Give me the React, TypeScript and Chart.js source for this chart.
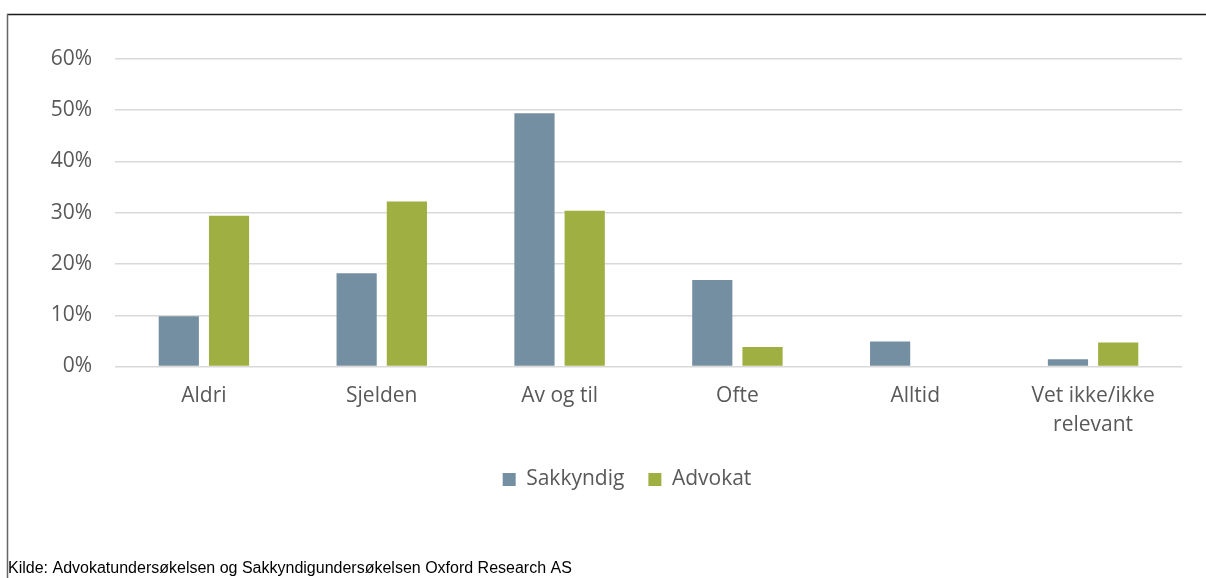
import React, { useEffect, useRef } from "react";
import { Chart, registerables } from "chart.js";

Chart.register(...registerables);

const categories: (string | string[])[] = ["Aldri", "Sjelden", "Av og til", "Ofte", "Alltid", ["Vet ikke/ikke", "relevant"]];
const sakkyndig = [9.8, 18.2, 49.4, 16.9, 4.9, 1.4];
const advokat = [29.4, 32.2, 30.4, 3.8, 0, 4.7];
const yTicks = [0, 10, 20, 30, 40, 50, 60];
const sourceNote = "Kilde: Advokatundersøkelsen og Sakkyndigundersøkelsen Oxford Research AS";

const FONT = "'Open Sans', sans-serif";
const TEXT = "#595959";

const framePlugin = {
  id: "frame",
  afterLayout(chart: any) {
    if (chart.legend) {
      chart.legend.left += 36;
      chart.legend.right += 36;
    }
  },
  beforeDraw(chart: any) {
    const ctx = chart.ctx;
    ctx.save();
    ctx.fillStyle = "#ffffff";
    ctx.fillRect(0, 0, chart.width, chart.height);
    ctx.lineWidth = 1.5;
    ctx.strokeStyle = "#1a1a1a";
    ctx.beginPath();
    ctx.moveTo(7, 14.5);
    ctx.lineTo(chart.width, 14.5);
    ctx.stroke();
    ctx.strokeStyle = "#666666";
    ctx.beginPath();
    ctx.moveTo(7.5, 14);
    ctx.lineTo(7.5, chart.height);
    ctx.stroke();
    ctx.restore();
  },
  afterDraw(chart: any) {
    const ctx = chart.ctx;
    ctx.save();
    ctx.fillStyle = "#000000";
    ctx.font = "16px 'Liberation Sans', Arial, sans-serif";
    ctx.textBaseline = "alphabetic";
    ctx.textAlign = "left";
    ctx.fillText(sourceNote, 8, 573);
    ctx.restore();
  },
};

export default function App() {
  const ref = useRef<HTMLCanvasElement | null>(null);
  useEffect(() => {
    if (!ref.current) return;
    const chart = new Chart(ref.current, {
      type: "bar",
      data: {
        labels: categories,
        datasets: [
          { label: "Sakkyndig", data: sakkyndig, backgroundColor: "#758FA2", borderWidth: 0, barPercentage: 0.8, categoryPercentage: 0.565 },
          { label: "Advokat", data: advokat, backgroundColor: "#9FAF42", borderWidth: 0, barPercentage: 0.8, categoryPercentage: 0.565 },
        ],
      },
      options: {
        animation: false,
        responsive: false,
        maintainAspectRatio: false,
        layout: { padding: { left: 0, top: 59, right: 24, bottom: 78 } },
        plugins: {
          tooltip: { enabled: false },
          legend: {
            position: "bottom",
            labels: {
              boxWidth: 13,
              boxHeight: 13,
              padding: 24,
              color: TEXT,
              font: { family: FONT, size: 21 },
            },
          },
        },
        scales: {
          x: {
            grid: { display: false, drawTicks: false },
            border: { display: false },
            ticks: { color: TEXT, padding: 15.5, font: { family: FONT, size: 21, lineHeight: 1.38 }, maxRotation: 0, autoSkip: false },
            afterFit: (s: any) => { s.height = 78.5; },
          },
          y: {
            min: yTicks[0],
            max: yTicks[yTicks.length - 1],
            afterBuildTicks: (s: any) => { s.ticks = yTicks.map((v) => ({ value: v })); },
            grid: { color: "#D9D9D9", lineWidth: 1.5, drawTicks: false },
            border: { display: false },
            ticks: { color: TEXT, padding: 23, font: { family: FONT, size: 21 }, callback: (v: any) => v + "%" },
            afterFit: (s: any) => { s.width = 115; },
          },
        },
      },
      plugins: [framePlugin],
    });
    return () => chart.destroy();
  }, []);
  return (
    <div style={{ position: "absolute", left: 0, top: 0, width: 1206, height: 578 }}>
      <canvas ref={ref} width={1206} height={578} style={{ display: "block" }} />
    </div>
  );
}
